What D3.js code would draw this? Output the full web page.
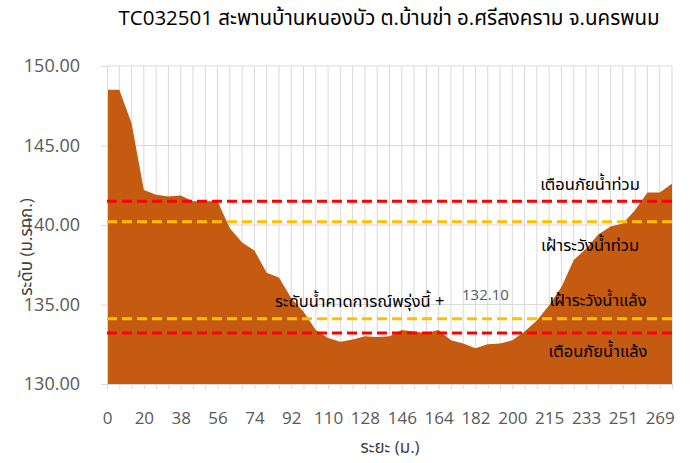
<!DOCTYPE html>
<html>
<head>
<meta charset="utf-8">
<script src="https://cdn.jsdelivr.net/npm/d3@7"></script>
<style>
  html, body { margin: 0; padding: 0; background: #fff; }
  svg { display: block; }
  text { font-family: Tahoma, "Open Sans", "Noto Sans Thai", sans-serif; }
</style>
</head>
<body>
<svg id="chart" width="693" height="463"></svg>
<script>
// ---- data ----
const title = "TC032501 สะพานบ้านหนองบัว ต.บ้านข่า อ.ศรีสงคราม จ.นครพนม";
const xTitle = "ระยะ (ม.)";
const yTitle = "ระดับ (ม.รทก.)";
// x-axis labels shown every third category
const tickLabels = ["0","20","38","56","74","92","110","128","146","164","182","200","215","233","251","269"];
// ground elevation for each of the 47 survey points
const elevation = [
  148.5, 148.5, 146.4, 142.2, 141.9, 141.8, 141.85, 141.5, 141.5, 141.5,
  139.8, 138.9, 138.4, 137.0, 136.7, 135.4, 134.55, 133.4, 132.9, 132.65,
  132.8, 133.0, 132.95, 133.0, 133.4, 133.3, 133.2, 133.4, 132.75, 132.55,
  132.25, 132.5, 132.55, 132.75, 133.3, 134.0, 134.95, 136.1, 137.8, 138.5,
  139.4, 139.9, 140.1, 140.95, 142.05, 142.05, 142.6
];
const yTicks = [130, 135, 140, 145, 150];
const levelNames = ["เตือนภัยน้ำท่วม", "เฝ้าระวังน้ำท่วม", "เฝ้าระวังน้ำแล้ง", "เตือนภัยน้ำแล้ง"];
const levelValues = [141.5, 140.2, 134.1, 133.2];
const forecastLabel = "ระดับน้ำคาดการณ์พรุ่งนี้ +";
const forecastValue = "132.10";

// ---- layout ----
const svg = d3.select("#chart");
const L = 107, R = 672, T = 66, B = 384;

const x = d3.scalePoint().domain(d3.range(elevation.length)).range([L, R]);
const y = d3.scaleLinear().domain([130, 150]).range([B, T]);

// gridlines
const grid = svg.append("g");
grid.selectAll("line.v").data(d3.range(1, elevation.length)).join("line")
  .attr("x1", d => x(d)).attr("x2", d => x(d))
  .attr("y1", T).attr("y2", B)
  .attr("stroke", "#d9d9d9").attr("stroke-width", 1);
grid.selectAll("line.h").data(yTicks.filter(v => v > 130)).join("line")
  .attr("x1", L).attr("x2", R)
  .attr("y1", d => y(d)).attr("y2", d => y(d))
  .attr("stroke", "#d9d9d9").attr("stroke-width", 1);

// area
const area = d3.area()
  .x((d, i) => x(i))
  .y0(y(130))
  .y1(d => y(d));
svg.append("path").datum(elevation)
  .attr("d", area)
  .attr("fill", "#C55A11");

// axes
const yAxis = d3.axisLeft(y).tickValues(yTicks).tickSize(6).tickPadding(21)
  .tickFormat(d3.format(".2f"));
const gy = svg.append("g").attr("transform", `translate(${L},0)`).call(yAxis);
gy.select(".domain").attr("stroke", "#d9d9d9");
gy.selectAll(".tick line").attr("stroke", "#d9d9d9");
gy.selectAll(".tick text").attr("fill", "#595959").style("font-size", "18px")
  .style("font-family", "'Open Sans', sans-serif");

const xAxis = d3.axisBottom(x).tickSize(5).tickPadding(23)
  .tickFormat(i => (i % 3 === 0 ? tickLabels[i / 3] : ""));
const gx = svg.append("g").attr("transform", `translate(0,${B})`).call(xAxis);
gx.select(".domain").attr("stroke", "#d9d9d9");
gx.selectAll(".tick line").attr("stroke", "#d9d9d9");
gx.selectAll(".tick text").attr("fill", "#595959").style("font-size", "17px")
  .style("font-family", "'Open Sans', sans-serif");

// threshold lines
const levelColors = ["#FF0000", "#FFC000", "#FFC000", "#FF0000"];
svg.append("g").selectAll("line").data(levelValues).join("line")
  .attr("x1", L).attr("x2", R)
  .attr("y1", d => y(d)).attr("y2", d => y(d))
  .attr("stroke", (d, i) => levelColors[i])
  .attr("stroke-width", 3)
  .attr("stroke-dasharray", "10,5");

// threshold labels
const labelPos = [[590, 190], [590, 251], [598, 306], [598, 357]];
svg.append("g").selectAll("text").data(levelNames).join("text")
  .attr("x", (d, i) => labelPos[i][0]).attr("y", (d, i) => labelPos[i][1])
  .attr("text-anchor", "middle")
  .attr("fill", "#000")
  .style("font-size", "16.5px")
  .text(d => d);

// forecast label
svg.append("text").attr("x", 275).attr("y", 307)
  .attr("fill", "#000").style("font-size", "16.5px").text(forecastLabel);
svg.append("text").attr("x", 462).attr("y", 300)
  .attr("fill", "#595959").style("font-size", "15px")
  .style("font-family", "'Open Sans', sans-serif").text(forecastValue);

// titles
svg.append("text").attr("x", 389).attr("y", 25).attr("text-anchor", "middle")
  .attr("fill", "#000").style("font-size", "20.5px").text(title);
svg.append("text").attr("x", 390).attr("y", 453).attr("text-anchor", "middle")
  .attr("fill", "#404040").style("font-size", "17px").text(xTitle);
svg.append("text").attr("transform", "translate(32,247) rotate(-90)")
  .attr("text-anchor", "middle")
  .attr("fill", "#404040").style("font-size", "17px").text(yTitle);
</script>
</body>
</html>
